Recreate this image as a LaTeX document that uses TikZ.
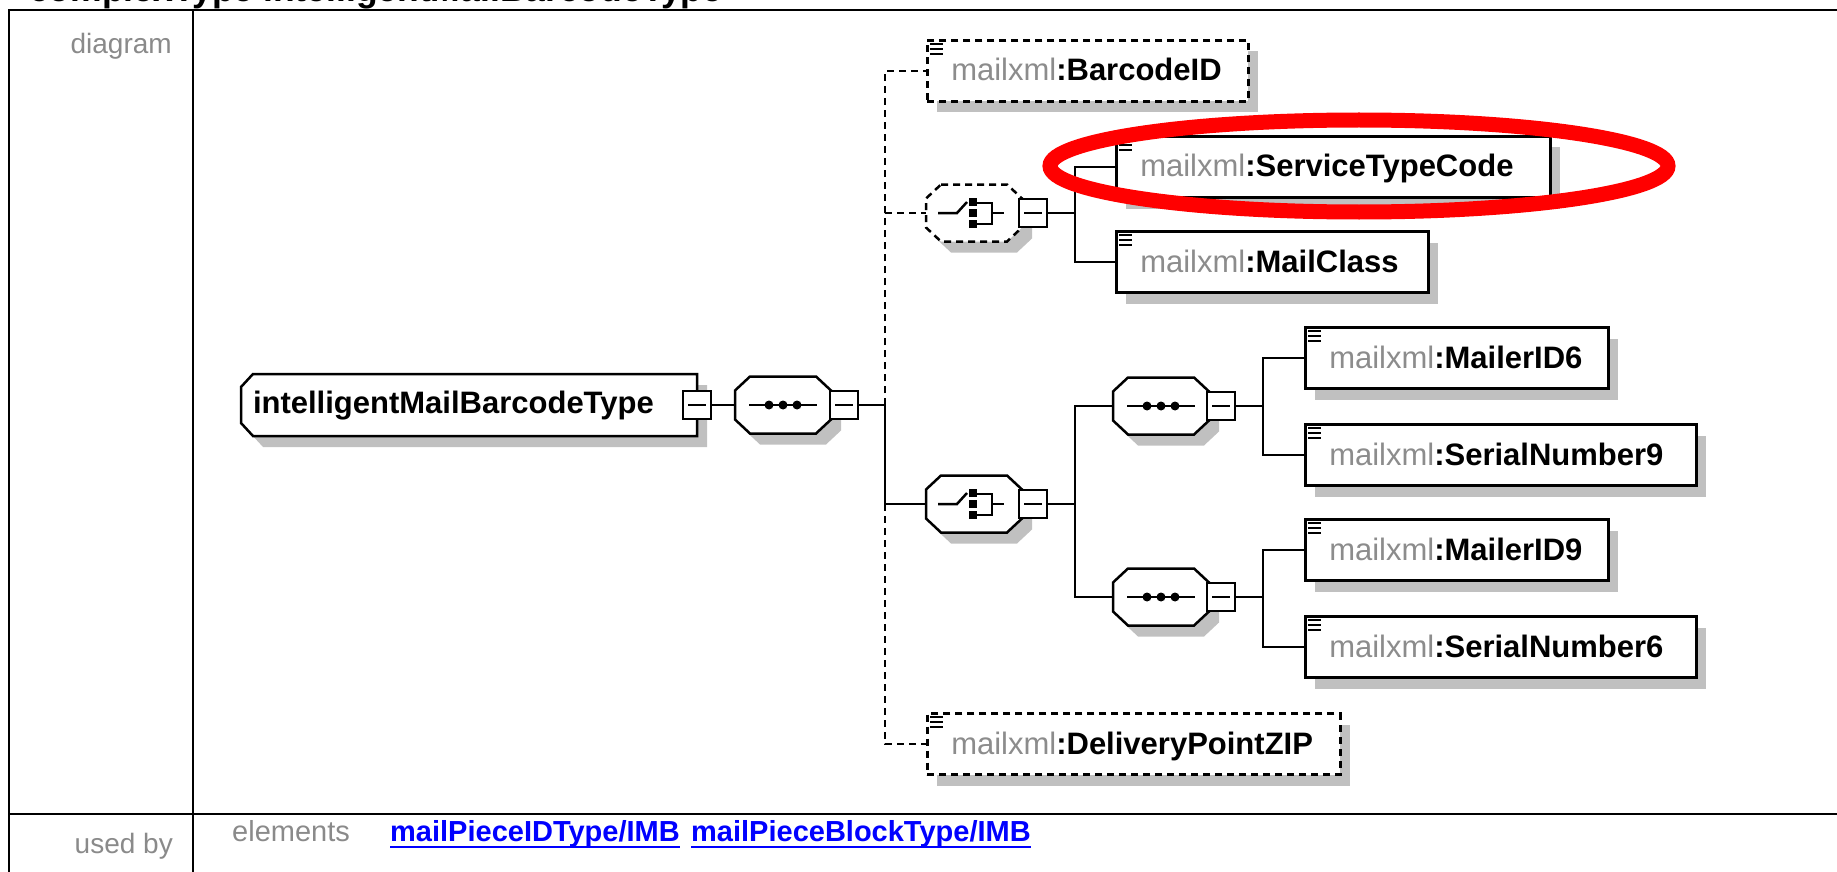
\documentclass[tikz,border=0pt]{standalone}
\usepackage{fontspec}
\setmainfont{Liberation Sans}
\usetikzlibrary{shadows,shapes.geometric}
\definecolor{shadowc}{HTML}{C0C0C0}
\definecolor{prefixc}{HTML}{8C8C8C}
\definecolor{labelc}{HTML}{8A8A8A}
\definecolor{linkc}{HTML}{0000FF}
\definecolor{markc}{HTML}{FF0000}
\pgfdeclarelayer{shadowlayer}
\pgfdeclarelayer{shapelayer}
\pgfsetlayers{shadowlayer,shapelayer,main}
\newcommand{\efont}{\fontsize{31pt}{31pt}\selectfont}
\newcommand{\lfont}{\fontsize{28pt}{28pt}\selectfont}
\newcommand{\ufont}{\fontsize{29pt}{29pt}\selectfont}
\newcommand{\pfx}{\textcolor{prefixc}{mailxml}\textbf{:}}
\newcommand{\octagon}[2]{%
  \begin{pgfonlayer}{shadowlayer}
  \fill[shadowc,transform canvas={shift={(10pt,-11pt)}}] ([xshift=15pt]#1.north west) -- ([xshift=-15pt]#1.north east) -- ([yshift=-14pt]#1.north east) -- ([yshift=14pt]#1.south east) -- ([xshift=-15pt]#1.south east) -- ([xshift=15pt]#1.south west) -- ([yshift=14pt]#1.south west) -- ([yshift=-14pt]#1.north west) -- cycle;
  \end{pgfonlayer}
  \begin{pgfonlayer}{shapelayer}
  \draw[boxline,fill=white,#2] ([xshift=15pt]#1.north west) -- ([xshift=-15pt]#1.north east) -- ([yshift=-14pt]#1.north east) -- ([yshift=14pt]#1.south east) -- ([xshift=-15pt]#1.south east) -- ([xshift=15pt]#1.south west) -- ([yshift=14pt]#1.south west) -- ([yshift=-14pt]#1.north west) -- cycle;
  \end{pgfonlayer}}
\newcommand{\seqsym}[1]{%
  \draw[conn] ([xshift=-34pt]#1.center) -- ([xshift=34pt]#1.center);
  \fill ([xshift=-14pt]#1.center) circle (4.5pt);
  \fill (#1.center) circle (4.5pt);
  \fill ([xshift=14pt]#1.center) circle (4.5pt);}
\newcommand{\choicesym}[1]{%
  \begin{scope}[shift={(#1.center)}]
  \draw[conn] (-36,0) -- (-17,0) -- (-7,-11);
  \fill (-5,-15) rectangle (3,-7);
  \fill (-5,-4) rectangle (3,4);
  \fill (-5,7) rectangle (3,15);
  \draw[conn] (3,-10) -- (18,-10) -- (18,11) -- (3,11);
  \draw[conn] (18,0) -- (30,0);
  \end{scope}}
\newcommand{\minusbox}[3]{%
  \node[minusst] (#1) at (#2,#3) {};
  \draw[conn] ([xshift=-9pt]#1.center) -- ([xshift=9pt]#1.center);}
\begin{document}
\begin{tikzpicture}[x=1pt,y=-1pt,
  boxline/.style={line width=2.5pt,draw=black},
  conn/.style={line width=2.5pt,draw=black},
  frame/.style={line width=2.5pt,draw=black},
  dashc/.style={dash pattern=on 7pt off 5pt},
  elem/.style={boxline,fill=white,minimum height=61pt,inner xsep=24pt,inner ysep=0pt,
    text height=23pt,text depth=3pt,align=left,font=\efont,anchor=west,
    drop shadow={shadow xshift=10pt,shadow yshift=-11pt,fill=shadowc,opacity=1}},
  comp/.style={draw=none,minimum width=96pt,minimum height=57pt,inner sep=0pt,outer sep=0pt},
  minusst/.style={boxline,fill=white,minimum size=28pt,inner sep=0pt,outer sep=0pt},
  mainst/.style={anchor=west,draw=none,minimum width=456pt,minimum height=62pt,text width=432pt,
    inner xsep=12pt,inner ysep=0pt,outer sep=0pt,align=left,font=\bfseries\efont,
    text height=22pt,text depth=5pt},
  lbl/.style={inner sep=0pt,text=labelc,font=\lfont},
  link/.style={inner sep=0pt,text=linkc,font=\bfseries\ufont}]
\useasboundingbox (0,0) rectangle (1837,872);
\clip (0,0) rectangle (1837,872);

% heading (cut off at the top, as in the reference)
\node[anchor=base west,inner sep=0pt,font=\bfseries\fontsize{35.5pt}{35.5pt}\selectfont] (head) at (29,2) {complexType intelligentMailBarcodeType};

% frame
\draw[frame] (9,880) -- (9,10) -- (1845,10);
\draw[frame] (193,10) -- (193,880);
\draw[frame] (9,814) -- (1845,814);

% labels
\node[lbl,anchor=base east] (ldiag) at (172,54) {diagram};
\node[lbl,anchor=base east] (lused) at (173,853) {used by};
\node[lbl,anchor=base west,font=\ufont] (lelem) at (232,841) {elements};
\node[link,anchor=base west] (lnk1) at (390,841) {mailPieceIDType/IMB};
\node[link,anchor=base west] (lnk2) at (691,841) {mailPieceBlockType/IMB};
\draw[linkc,line width=2pt] ([yshift=-6pt]lnk1.base west) -- ([yshift=-6pt]lnk1.base east);
\draw[linkc,line width=2pt] ([yshift=-6pt]lnk2.base west) -- ([yshift=-6pt]lnk2.base east);

% complex type box
\node[mainst] (ctype) at (241,405) {intelligentMailBarcodeType};
\begin{pgfonlayer}{shadowlayer}
\fill[shadowc,transform canvas={shift={(10pt,-11pt)}}] ([xshift=12pt]ctype.north west) -- (ctype.north east) -- (ctype.south east) -- ([xshift=12pt]ctype.south west) -- ([yshift=13pt]ctype.south west) -- ([yshift=-13pt]ctype.north west) -- cycle;
\end{pgfonlayer}
\begin{pgfonlayer}{shapelayer}
\draw[boxline,fill=white] ([xshift=12pt]ctype.north west) -- (ctype.north east) -- (ctype.south east) -- ([xshift=12pt]ctype.south west) -- ([yshift=13pt]ctype.south west) -- ([yshift=-13pt]ctype.north west) -- cycle;
\end{pgfonlayer}
\minusbox{m0}{697}{405}

% compositors
\node[comp] (seq0) at (783,405) {};
\octagon{seq0}{}
\seqsym{seq0}
\minusbox{m1}{844}{405}

\node[comp] (chc0) at (974,213) {};
\octagon{chc0}{dashc}
\choicesym{chc0}
\minusbox{m2}{1033}{213}

\node[comp] (ch1) at (974,504) {};
\octagon{ch1}{}
\choicesym{ch1}
\minusbox{m3}{1033}{504}

\node[comp] (sq1) at (1161,406) {};
\octagon{sq1}{}
\seqsym{sq1}
\minusbox{m4}{1221}{406}

\node[comp] (sq2) at (1161,597) {};
\octagon{sq2}{}
\seqsym{sq2}
\minusbox{m5}{1221}{597}

% elements
\node[elem,dashc,text width=273pt] (bid) at (926,71) {\pfx\textbf{BarcodeID}};
\node[elem,text width=386pt] (stc) at (1115,167) {\pfx\textbf{ServiceTypeCode}};
\node[elem,text width=264pt] (mcl) at (1115,262) {\pfx\textbf{MailClass}};
\node[elem,text width=255pt] (mid6) at (1304,358) {\pfx\textbf{MailerID6}};
\node[elem,text width=343pt] (sn9) at (1304,455) {\pfx\textbf{SerialNumber9}};
\node[elem,text width=255pt] (mid9) at (1304,550) {\pfx\textbf{MailerID9}};
\node[elem,text width=343pt] (sn6) at (1304,647) {\pfx\textbf{SerialNumber6}};
\node[elem,dashc,text width=365pt] (dpz) at (926,744) {\pfx\textbf{DeliveryPointZIP}};

\foreach \n in {bid,stc,mcl,mid6,sn9,mid9,sn6,dpz} {
  \foreach \k in {5,10,15} {
    \draw[line width=2pt] ([shift={(4pt,-\k pt)}]\n.north west) -- ++(13pt,0pt);
  }
}

% junctions
\coordinate (j0) at (885,405);
\coordinate (j1) at (885,504);
\coordinate (j2) at (1075,213);
\coordinate (j3) at (1075,504);
\coordinate (j4) at (1263,406);
\coordinate (j5) at (1263,597);

% connectors
\draw[conn] (m0.east) -- (seq0.west);
\draw[conn] (m1.east) -- (j0);
\draw[conn,dashc] (j0) |- (bid.west);
\draw[conn,dashc] (j0) |- (chc0.west);
\draw[conn] (j0) |- (ch1.west);
\draw[conn,dashc] (j1) |- (dpz.west);
\draw[conn] (m2.east) -- (j2);
\draw[conn] (j2) |- (stc.west);
\draw[conn] (j2) |- (mcl.west);
\draw[conn] (m3.east) -- (j3);
\draw[conn] (j3) |- (sq1.west);
\draw[conn] (j3) |- (sq2.west);
\draw[conn] (m4.east) -- (j4);
\draw[conn] (j4) |- (mid6.west);
\draw[conn] (j4) |- (sn9.west);
\draw[conn] (m5.east) -- (j5);
\draw[conn] (j5) |- (mid9.west);
\draw[conn] (j5) |- (sn6.west);

% highlight
\node[draw=markc,line width=15pt,ellipse,minimum width=618pt,minimum height=92pt,inner sep=0pt] (hl) at (1359,166) {};
\end{tikzpicture}
\end{document}
